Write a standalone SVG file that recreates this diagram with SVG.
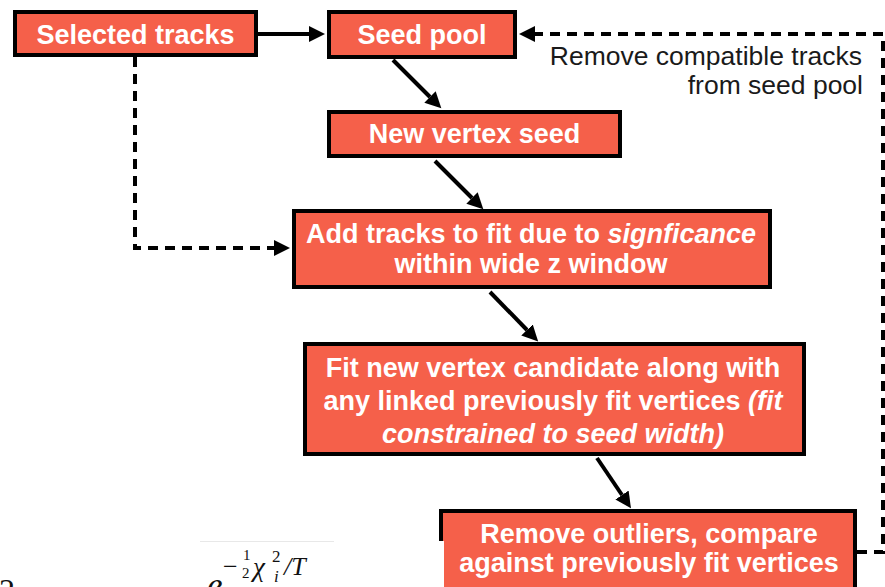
<svg xmlns="http://www.w3.org/2000/svg" width="885" height="587" viewBox="0 0 885 587">
  <style>
    .box { fill: #F5604A; stroke: #000; stroke-width: 4; }
    .lbl { font-family: "Liberation Sans", Arial, sans-serif; font-weight: bold; font-size: 27px; fill: #fff; text-anchor: middle; }
    .note { font-family: "Liberation Sans", Arial, sans-serif; font-size: 26.5px; fill: #1a1a1a; text-anchor: end; }
    .solid { fill: none; stroke: #000; stroke-width: 4; }
    .dash { fill: none; stroke: #000; stroke-width: 4; stroke-dasharray: 10 7; }
    .math { font-family: "Liberation Serif", "Times New Roman", serif; fill: #111; }
    .it { font-style: italic; }
  </style>
  <defs>
    <marker id="head" markerUnits="userSpaceOnUse" markerWidth="17" markerHeight="17" refX="0" refY="8" orient="auto">
      <path d="M0,0 L16,8 L0,16 z" fill="#000"/>
    </marker>
  </defs>

  <rect width="885" height="587" fill="#fff"/>

  <!-- connectors -->
  <g id="connectors">
    <path class="solid" d="M258 34 H309" marker-end="url(#head)"/>
    <path class="solid" d="M393 60 L430 97" marker-end="url(#head)"/>
    <path class="solid" d="M435 161 L472 198" marker-end="url(#head)"/>
    <path class="solid" d="M490 292 L527 330" marker-end="url(#head)"/>
    <path class="solid" d="M597 458 L622 495" marker-end="url(#head)"/>
    <path class="dash" d="M135 57 V248 H274" marker-end="url(#head)"/>
    <path class="dash" d="M857 552 H883 V34 H535" marker-end="url(#head)"/>
  </g>

  <g id="note-remove">
    <text class="note" x="862" y="65">Remove compatible tracks</text>
    <text class="note" x="863" y="94">from seed pool</text>
  </g>

  <g id="selected-tracks">
    <rect class="box" x="15" y="12" width="241" height="43"/>
    <text class="lbl" x="135.5" y="44">Selected tracks</text>
  </g>

  <g id="seed-pool">
    <rect class="box" x="329" y="12" width="186" height="45"/>
    <text class="lbl" x="422" y="44">Seed pool</text>
  </g>

  <g id="new-vertex-seed">
    <rect class="box" x="329" y="112" width="291" height="44"/>
    <text class="lbl" x="474.5" y="143">New vertex seed</text>
  </g>

  <g id="add-tracks">
    <rect class="box" x="294" y="211" width="476" height="76"/>
    <text class="lbl" x="531" y="243">Add tracks to fit due to <tspan font-style="italic">signficance</tspan></text>
    <text class="lbl" x="531" y="273">within wide z window</text>
  </g>

  <g id="fit-vertex">
    <rect class="box" x="305" y="344" width="499" height="110"/>
    <text class="lbl" x="553" y="377">Fit new vertex candidate along with</text>
    <text class="lbl" x="553" y="410">any linked previously fit vertices <tspan font-style="italic">(fit</tspan></text>
    <text class="lbl" x="553" y="443" font-style="italic">constrained to seed width)</text>
  </g>

  <g id="remove-outliers">
    <rect class="box" x="441" y="511" width="414" height="100"/>
    <text class="lbl" x="649" y="543">Remove outliers, compare</text>
    <text class="lbl" x="649" y="572">against previously fit vertices</text>
  </g>

  <!-- lower-left panel with the annealing weight formula -->
  <g id="formula-panel">
    <rect x="0" y="541" width="444" height="46" fill="#fff"/>
    <line x1="200" y1="541.5" x2="334" y2="541.5" stroke="#e8e8e8" stroke-width="1"/>
    <text class="math" x="-1" y="601" font-size="32">2</text>
    <text class="math it" x="207" y="597" font-size="35">e</text>
    <text class="math" x="223" y="575" font-size="26">−</text>
    <text class="math" x="243" y="560" font-size="15">1</text>
    <text class="math" x="242" y="578" font-size="15">2</text>
    <text class="math it" x="253" y="576" font-size="27">χ</text>
    <text class="math" x="272" y="562" font-size="17">2</text>
    <text class="math it" x="274" y="582" font-size="17">i</text>
    <text class="math it" x="284" y="575" font-size="26">/T</text>
  </g>
</svg>
